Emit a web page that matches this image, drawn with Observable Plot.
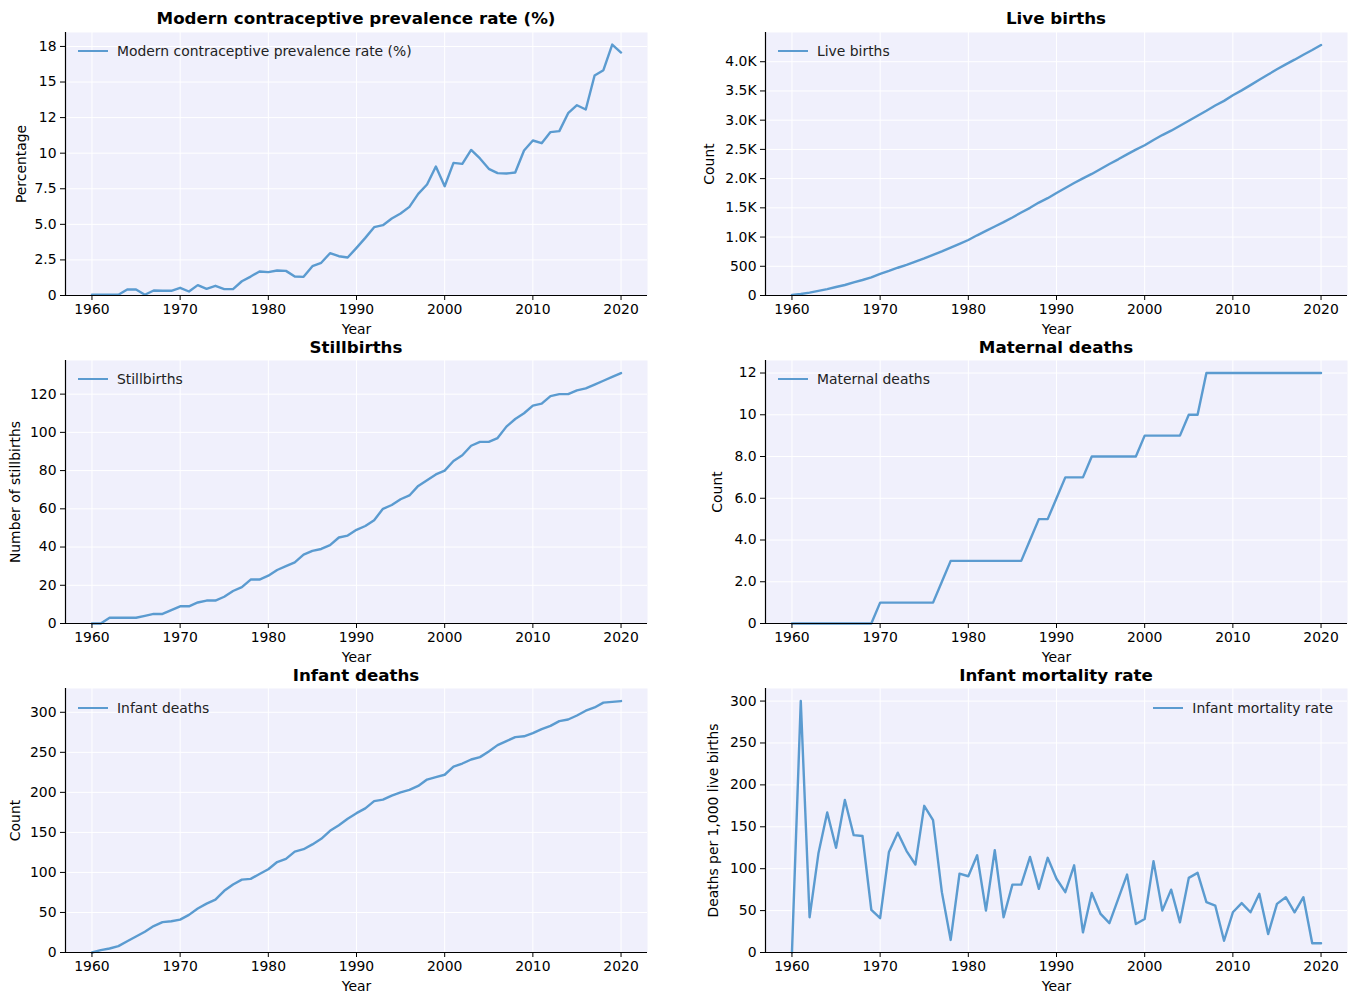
<!DOCTYPE html>
<html><head><meta charset="utf-8">
<script src="https://cdn.jsdelivr.net/npm/d3@7"></script>
<script src="https://cdn.jsdelivr.net/npm/@observablehq/plot@0.6"></script>
<style>
body{margin:0;background:#fff;font-family:"DejaVu Sans",sans-serif;}
#fig{position:relative;width:1355px;height:1005px;overflow:hidden;}
.panel{position:absolute;}
.title{position:absolute;font-weight:bold;font-size:16.7px;transform:translate(-50%,-50%);white-space:nowrap;color:#000;}
.legend{position:absolute;font-size:13.9px;display:flex;align-items:center;white-space:nowrap;transform:translateY(-50%);color:#222;}
.legend .sw{width:30px;height:0;border-top:2.5px solid #5b9bd0;margin-right:9px;}
</style></head><body><div id="fig"></div>
<script>
const years = [1960,1961,1962,1963,1964,1965,1966,1967,1968,1969,1970,1971,1972,1973,1974,1975,1976,1977,1978,1979,1980,1981,1982,1983,1984,1985,1986,1987,1988,1989,1990,1991,1992,1993,1994,1995,1996,1997,1998,1999,2000,2001,2002,2003,2004,2005,2006,2007,2008,2009,2010,2011,2012,2013,2014,2015,2016,2017,2018,2019,2020];
const xTicks = [1960,1970,1980,1990,2000,2010,2020];

const contraceptive = [0.05,0.05,0.05,0.05,0.42,0.42,0.05,0.35,0.33,0.33,0.54,0.28,0.73,0.47,0.68,0.45,0.45,1.0,1.33,1.69,1.64,1.76,1.73,1.33,1.31,2.06,2.3,2.97,2.76,2.67,3.35,4.05,4.8,4.94,5.41,5.76,6.23,7.14,7.8,9.06,7.68,9.32,9.25,10.23,9.63,8.9,8.6,8.57,8.64,10.19,10.89,10.7,11.48,11.55,12.81,13.37,13.07,15.46,15.83,17.63,17.07];
const liveBirths = [10,25,50,80,110,145,180,225,265,310,370,420,475,525,580,635,695,755,820,885,950,1030,1105,1180,1255,1335,1420,1500,1590,1665,1755,1840,1925,2005,2080,2165,2250,2330,2415,2495,2570,2660,2745,2820,2905,2990,3075,3160,3250,3330,3425,3510,3600,3690,3780,3870,3955,4035,4120,4200,4285];
const stillbirths = [0,0,3,3,3,3,4,5,5,7,9,9,11,12,12,14,17,19,23,23,25,28,30,32,36,38,39,41,45,46,49,51,54,60,62,65,67,72,75,78,80,85,88,93,95,95,97,103,107,110,114,115,119,120,120,122,123,125,127,129,131];
const maternalDeaths = [0,0,0,0,0,0,0,0,0,0,1,1,1,1,1,1,1,2,3,3,3,3,3,3,3,3,3,4,5,5,6,7,7,7,8,8,8,8,8,8,9,9,9,9,9,10,10,12,12,12,12,12,12,12,12,12,12,12,12,12,12];
const infantDeaths = [0,3,5,8,14,20,26,33,38,39,41,47,55,61,66,77,85,91,92,98,104,113,117,126,129,135,142,152,159,167,174,180,189,191,196,200,203,208,216,219,222,232,236,241,244,251,259,264,269,270,274,279,283,289,291,296,302,306,312,313,314];
const infantMortality = [0,300,42,118,167,125,182,140,139,51,41,120,143,121,105,175,158,72,15,94,91,116,50,122,42,81,81,114,76,113,88,72,104,24,71,46,35,64,93,34,40,109,50,75,36,89,95,60,56,14,48,59,48,70,22,58,66,48,66,11,11];

const titles = ["Modern contraceptive prevalence rate (%)","Live births","Stillbirths","Maternal deaths","Infant deaths","Infant mortality rate"];
const yLabels = ["Percentage","Count","Number of stillbirths","Count","Count","Deaths per 1,000 live births"];
const yTicks = [
  [0,2.5,5,7.5,10,12.5,15,17.5],
  [0,500,1000,1500,2000,2500,3000,3500,4000],
  [0,20,40,60,80,100,120],
  [0,2,4,6,8,10,12],
  [0,50,100,150,200,250,300],
  [0,50,100,150,200,250,300]
];
const yTickLabels = [
  ["0","2.5","5.0","7.5","10","12","15","18"],
  ["0","500","1.0K","1.5K","2.0K","2.5K","3.0K","3.5K","4.0K"],
  ["0","20","40","60","80","100","120"],
  ["0","2.0","4.0","6.0","8.0","10","12"],
  ["0","50","100","150","200","250","300"],
  ["0","50","100","150","200","250","300"]
];
const series = [contraceptive, liveBirths, stillbirths, maternalDeaths, infantDeaths, infantMortality];
const yMax = [18.48, 4500, 137.6, 12.6, 329.7, 315];
const labelOffsets = [49, 61, 55, 53, 55, 57];
const legendRight = [false,false,false,false,false,true];

const COLOR = "#5b9bd0";
const FS = 13.9;
const fig = document.getElementById("fig");
const rowTops = [0,335,665], rowH = [335,330,340];
const mTop = [32,25,23], mBot = [40,42,53];
const titleY = [18,347,675];
const legendY = [51,379,708];

series.forEach((vals, k) => {
  const row = Math.floor(k/2), col = k%2;
  const cellX = col===0 ? 0 : 677, w = col===0 ? 677 : 678;
  const ml = col===0 ? 65 : 88, mr = col===0 ? 30 : 8;
  const data = years.map((y,i)=>({year:y, value:vals[i]}));
  const lm = new Map(yTicks[k].map((t,i)=>[t, yTickLabels[k][i]]));
  const svg = Plot.plot({
    width:w, height:rowH[row], marginLeft:ml, marginRight:mr, marginTop:mTop[row], marginBottom:mBot[row],
    style:{fontFamily:"DejaVu Sans", fontSize:FS+"px", background:"transparent", color:"#000", overflow:"visible"},
    x:{domain:[1957,2023]},
    y:{domain:[0,yMax[k]]},
    marks:[
      Plot.frame({fill:"#f0f0fc", stroke:null}),
      Plot.gridX(xTicks,{stroke:"#fff", strokeOpacity:1, strokeWidth:1}),
      Plot.gridY(yTicks[k],{stroke:"#fff", strokeOpacity:1, strokeWidth:1}),
      Plot.line(data,{x:"year", y:"value", stroke:COLOR, strokeWidth:2.4, strokeLinejoin:"round"}),
      Plot.ruleY([0],{stroke:"#000", strokeWidth:1.2}),
      Plot.ruleX([1957],{stroke:"#000", strokeWidth:1.2}),
      Plot.axisX(xTicks,{tickSize:5, tickPadding:4, fontSize:FS, tickFormat:d=>String(d), label:"Year", labelAnchor:"center", labelArrow:"none", labelOffset:38}),
      Plot.axisY(yTicks[k],{tickSize:5, tickPadding:4, fontSize:FS, tickFormat:d=>lm.get(d), label:yLabels[k], labelAnchor:"center", labelArrow:"none", labelOffset:labelOffsets[k]})
    ]
  });
  const holder = document.createElement("div");
  holder.className = "panel";
  holder.style.left = cellX + "px";
  holder.style.top = rowTops[row] + "px";
  holder.appendChild(svg);
  fig.appendChild(holder);

  const t = document.createElement("div");
  t.className = "title";
  t.textContent = titles[k];
  t.style.left = (cellX + ml + (w - ml - mr)/2) + "px";
  t.style.top = titleY[row] + "px";
  fig.appendChild(t);

  const lg = document.createElement("div");
  lg.className = "legend";
  lg.innerHTML = '<span class="sw"></span><span></span>';
  lg.lastChild.textContent = titles[k];
  if (legendRight[k]) { lg.style.right = (1355 - 1333) + "px"; }
  else { lg.style.left = (cellX + ml + 13) + "px"; }
  lg.style.top = legendY[row] + "px";
  fig.appendChild(lg);
});
</script></body></html>
